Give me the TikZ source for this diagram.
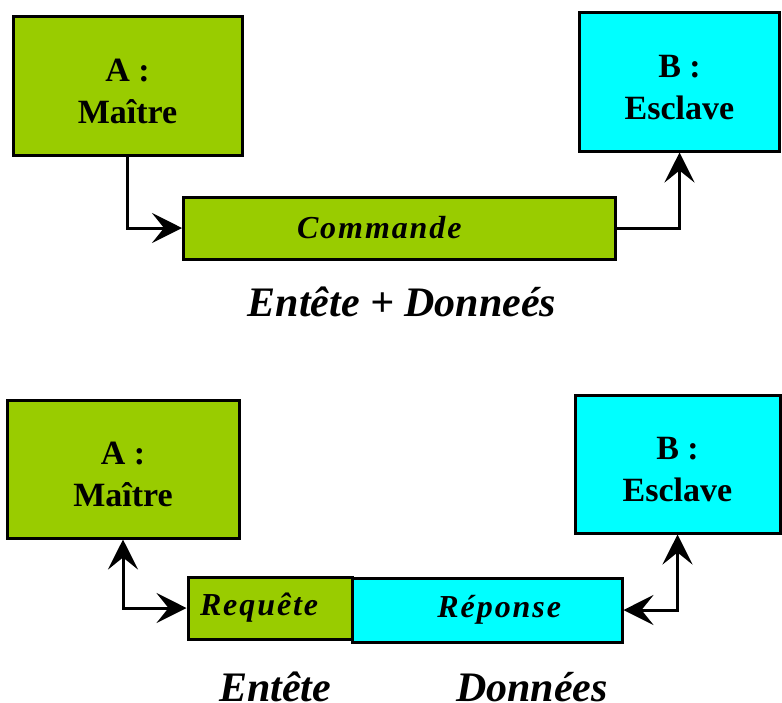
\documentclass[tikz,border=0pt]{standalone}
\usepackage{fontspec}
\setmainfont{Liberation Serif}
\usetikzlibrary{arrows.meta}
\definecolor{vert}{HTML}{99CC00}
\definecolor{cyan}{HTML}{00FFFF}
\tikzset{
  boite/.style={draw, line width=3pt, inner sep=0pt, align=center, text height=76pt,
    font=\bfseries\fontsize{34}{42}\selectfont},
  trame/.style={draw, line width=3pt, inner sep=0pt,
    font=\bfseries\itshape\fontsize{32}{38}\selectfont\addfontfeatures{LetterSpace=6}},
  legende/.style={font=\bfseries\itshape\fontsize{42}{48}\selectfont},
  lien/.style={line width=3pt, -{Stealth[length=30pt,width=30pt,inset=12pt]}},
  lien2/.style={line width=3pt, {Stealth[length=30pt,width=30pt,inset=12pt]}-{Stealth[length=30pt,width=30pt,inset=12pt]}}
}
\begin{document}
\begin{tikzpicture}[x=1pt,y=-1pt]
            \useasboundingbox[fill=white] (0,0) rectangle (782,702);
            % echange 1 : commande
            \node[boite, fill=vert, minimum width=229pt, minimum height=139pt] (maitre1) at (127.5,85.5) {A :\\Maître};
            \node[boite, fill=cyan, minimum width=200pt, minimum height=139pt] (esclave1) at (679.5,81.5) {B :\\Esclave};
            \node[trame, fill=vert, minimum width=432pt, minimum height=62pt, text width=205pt, align=left] (commande) at (399.5,228) {Commande};
            \node[legende] (entete1) at (402,302) {Entête + Donneés};
            \draw[lien] (maitre1.south) |- (commande.west);
            \draw[lien] (commande.east) -| (esclave1.south);
            % echange 2 : requete / reponse
            \node[boite, fill=vert, minimum width=232pt, minimum height=138pt] (maitre2) at (123,469) {A :\\Maître};
            \node[boite, fill=cyan, minimum width=205pt, minimum height=138pt] (esclave2) at (677.5,464) {B :\\Esclave};
            \node[trame, fill=vert, minimum width=164pt, minimum height=62pt, text width=140pt, align=left] (requete) at (270,608) {Requête};
            \node[trame, fill=cyan, minimum width=270pt, minimum height=64pt, text width=148pt, align=right] (reponse) at (487,610) {Réponse};
            \node[legende, anchor=base] (entete2) at (275,701) {Entête};
            \node[legende, anchor=base] (donnees) at (532,701) {Données};
            \draw[lien2] (maitre2.south) |- (requete.west);
            \draw[lien2] (reponse.east) -| (esclave2.south);
        \end{tikzpicture}
\end{document}
